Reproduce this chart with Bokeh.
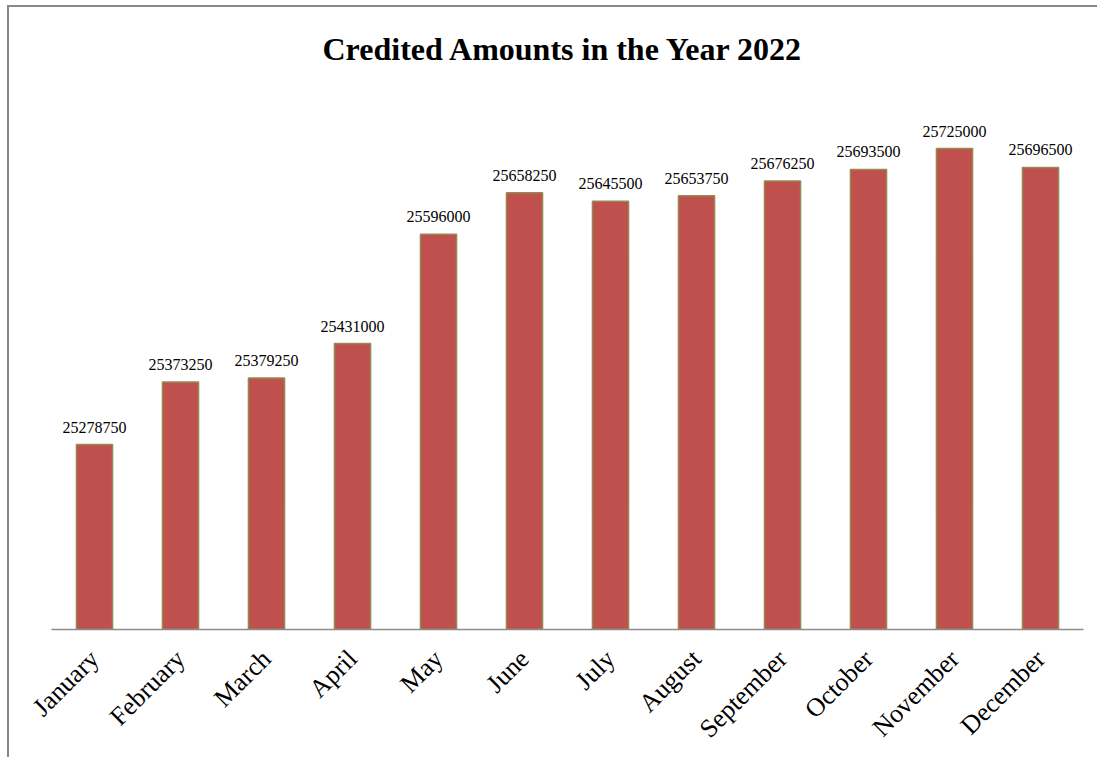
import math
from bokeh.plotting import figure
from bokeh.models import ColumnDataSource, LabelSet, Range1d
from bokeh.embed import file_html
from bokeh.resources import INLINE

months = ["January", "February", "March", "April", "May", "June", "July",
          "August", "September", "October", "November", "December"]
amounts = [25278750, 25373250, 25379250, 25431000, 25596000, 25658250,
           25645500, 25653750, 25676250, 25693500, 25725000, 25696500]
title_text = "Credited Amounts in the Year 2022"

source = ColumnDataSource(dict(month=months, amount=amounts,
                               label=[str(v) for v in amounts]))

p = figure(x_range=months, y_range=Range1d(25000000, 25811000),
           width=1090, height=752, output_backend="svg", toolbar_location=None,
           title=title_text, min_border_left=42, min_border_right=16,
           min_border_top=82, min_border_bottom=130)
p.styles = {"border-top": "2px solid #888888", "border-left": "2px solid #888888",
            "margin-left": "7px", "margin-top": "5px"}

p.vbar(x="month", top="amount", bottom=25000000, width=0.42, source=source,
       fill_color="#C0504D", line_color="#948A54", line_width=1.5)

labels = LabelSet(x="month", y="amount", text="label", source=source,
                  text_align="center", text_baseline="bottom", y_offset=12,
                  text_font="Liberation Serif", text_font_size="16px",
                  text_color="#000000")
p.add_layout(labels)

p.title.align = "left"
p.title.offset = 271
p.title.vertical_align = "top"
p.title.text_font = "Liberation Serif"
p.title.text_font_size = "32px"
p.title.text_font_style = "bold"
p.title.text_color = "#000000"
p.title.standoff = 46

p.x_range.range_padding = 0
p.yaxis.visible = False
p.xgrid.grid_line_color = None
p.ygrid.grid_line_color = None
p.outline_line_color = None

p.xaxis.axis_line_color = "#8c8c8c"
p.xaxis.axis_line_width = 1.5
p.xaxis.major_tick_line_color = None
p.xaxis.minor_tick_line_color = None
p.xaxis.major_label_orientation = math.pi / 4
p.xaxis.major_label_standoff = 19
p.xaxis.major_label_text_font = "Liberation Serif"
p.xaxis.major_label_text_font_size = "26px"
p.xaxis.major_label_text_color = "#000000"

open("out.html", "w").write(file_html(p, INLINE))
